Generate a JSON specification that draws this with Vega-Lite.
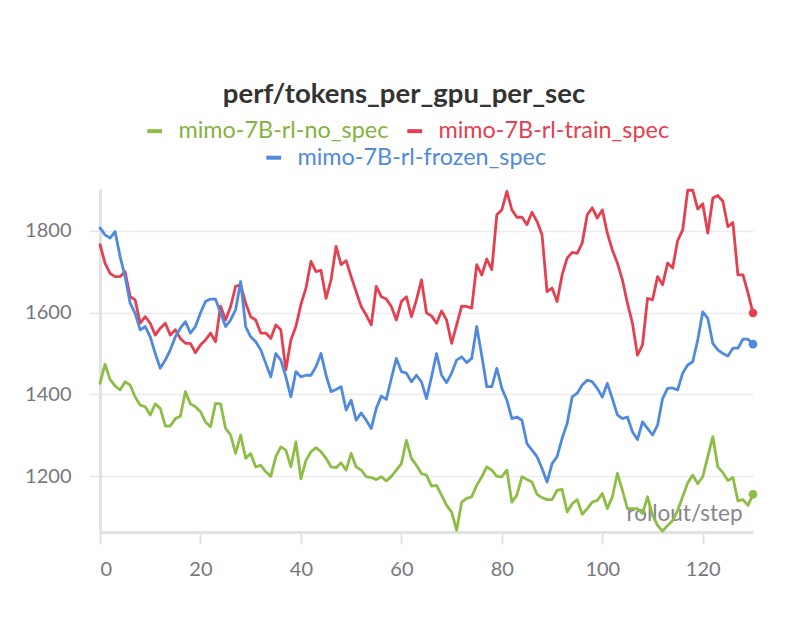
{
"$schema": "https://vega.github.io/schema/vega-lite/v6.json",
"width": 653,
"height": 343,
"autosize": {"type": "none"},
"padding": {"left": 100, "top": 189, "right": 53, "bottom": 88},
"background": "white",
"config": {"view": {"stroke": null}},
"title": {"text": "perf/tokens_per_gpu_per_sec", "frame": "group", "anchor": "middle", "dx": -22.5, "offset": -17, "baseline": "bottom", "font": "Lato", "fontSize": 27.5, "fontWeight": "bold", "color": "#333333"},
"datasets": {
"no_spec": [
{"step":0,"value":1427},{"step":1,"value":1474},{"step":2,"value":1437},{"step":3,"value":1421},{"step":4,"value":1411},{"step":5,"value":1431},{"step":6,"value":1423},{"step":7,"value":1394},{"step":8,"value":1374},{"step":9,"value":1370},
{"step":10,"value":1350},{"step":11,"value":1377},{"step":12,"value":1366},{"step":13,"value":1323},{"step":14,"value":1323},{"step":15,"value":1341},{"step":16,"value":1347},{"step":17,"value":1407},{"step":18,"value":1377},{"step":19,"value":1370},
{"step":20,"value":1358},{"step":21,"value":1333},{"step":22,"value":1321},{"step":23,"value":1378},{"step":24,"value":1377},{"step":25,"value":1317},{"step":26,"value":1301},{"step":27,"value":1256},{"step":28,"value":1301},{"step":29,"value":1244},
{"step":30,"value":1256},{"step":31,"value":1223},{"step":32,"value":1227},{"step":33,"value":1211},{"step":34,"value":1200},{"step":35,"value":1248},{"step":36,"value":1272},{"step":37,"value":1264},{"step":38,"value":1223},{"step":39,"value":1284},
{"step":40,"value":1194},{"step":41,"value":1239},{"step":42,"value":1260},{"step":43,"value":1270},{"step":44,"value":1260},{"step":45,"value":1244},{"step":46,"value":1223},{"step":47,"value":1221},{"step":48,"value":1233},{"step":49,"value":1215},
{"step":50,"value":1256},{"step":51,"value":1223},{"step":52,"value":1215},{"step":53,"value":1199},{"step":54,"value":1197},{"step":55,"value":1192},{"step":56,"value":1199},{"step":57,"value":1189},{"step":58,"value":1200},{"step":59,"value":1215},
{"step":60,"value":1231},{"step":61,"value":1288},{"step":62,"value":1244},{"step":63,"value":1227},{"step":64,"value":1207},{"step":65,"value":1203},{"step":66,"value":1176},{"step":67,"value":1178},{"step":68,"value":1154},{"step":69,"value":1129},
{"step":70,"value":1113},{"step":71,"value":1068},{"step":72,"value":1137},{"step":73,"value":1146},{"step":74,"value":1150},{"step":75,"value":1178},{"step":76,"value":1199},{"step":77,"value":1223},{"step":78,"value":1215},{"step":79,"value":1200},
{"step":80,"value":1199},{"step":81,"value":1215},{"step":82,"value":1137},{"step":83,"value":1154},{"step":84,"value":1199},{"step":85,"value":1192},{"step":86,"value":1186},{"step":87,"value":1156},{"step":88,"value":1148},{"step":89,"value":1143},
{"step":90,"value":1143},{"step":91,"value":1166},{"step":92,"value":1168},{"step":93,"value":1113},{"step":94,"value":1133},{"step":95,"value":1143},{"step":96,"value":1107},{"step":97,"value":1121},{"step":98,"value":1137},{"step":99,"value":1141},
{"step":100,"value":1158},{"step":101,"value":1121},{"step":102,"value":1150},{"step":103,"value":1207},{"step":104,"value":1166},{"step":105,"value":1121},{"step":106,"value":1121},{"step":107,"value":1121},{"step":108,"value":1109},{"step":109,"value":1150},
{"step":110,"value":1105},{"step":111,"value":1080},{"step":112,"value":1066},{"step":113,"value":1080},{"step":114,"value":1092},{"step":115,"value":1117},{"step":116,"value":1150},{"step":117,"value":1184},{"step":118,"value":1203},{"step":119,"value":1182},
{"step":120,"value":1199},{"step":121,"value":1248},{"step":122,"value":1297},{"step":123,"value":1223},{"step":124,"value":1209},{"step":125,"value":1190},{"step":126,"value":1197},{"step":127,"value":1140},{"step":128,"value":1143},{"step":129,"value":1129},
{"step":130,"value":1156}
],
"train_spec": [
{"step":0,"value":1766},{"step":1,"value":1721},{"step":2,"value":1696},{"step":3,"value":1688},{"step":4,"value":1688},{"step":5,"value":1700},{"step":6,"value":1639},{"step":7,"value":1631},{"step":8,"value":1574},{"step":9,"value":1590},
{"step":10,"value":1574},{"step":11,"value":1545},{"step":12,"value":1562},{"step":13,"value":1574},{"step":14,"value":1545},{"step":15,"value":1558},{"step":16,"value":1537},{"step":17,"value":1525},{"step":18,"value":1525},{"step":19,"value":1502},
{"step":20,"value":1521},{"step":21,"value":1533},{"step":22,"value":1550},{"step":23,"value":1529},{"step":24,"value":1616},{"step":25,"value":1582},{"step":26,"value":1615},{"step":27,"value":1664},{"step":28,"value":1668},{"step":29,"value":1623},
{"step":30,"value":1590},{"step":31,"value":1582},{"step":32,"value":1550},{"step":33,"value":1550},{"step":34,"value":1537},{"step":35,"value":1570},{"step":36,"value":1558},{"step":37,"value":1460},{"step":38,"value":1533},{"step":39,"value":1566},
{"step":40,"value":1620},{"step":41,"value":1660},{"step":42,"value":1725},{"step":43,"value":1700},{"step":44,"value":1703},{"step":45,"value":1635},{"step":46,"value":1680},{"step":47,"value":1762},{"step":48,"value":1717},{"step":49,"value":1727},
{"step":50,"value":1688},{"step":51,"value":1651},{"step":52,"value":1615},{"step":53,"value":1594},{"step":54,"value":1570},{"step":55,"value":1664},{"step":56,"value":1639},{"step":57,"value":1633},{"step":58,"value":1615},{"step":59,"value":1582},
{"step":60,"value":1627},{"step":61,"value":1639},{"step":62,"value":1590},{"step":63,"value":1631},{"step":64,"value":1680},{"step":65,"value":1599},{"step":66,"value":1592},{"step":67,"value":1574},{"step":68,"value":1604},{"step":69,"value":1582},
{"step":70,"value":1525},{"step":71,"value":1570},{"step":72,"value":1616},{"step":73,"value":1615},{"step":74,"value":1611},{"step":75,"value":1717},{"step":76,"value":1692},{"step":77,"value":1731},{"step":78,"value":1705},{"step":79,"value":1839},
{"step":80,"value":1851},{"step":81,"value":1896},{"step":82,"value":1851},{"step":83,"value":1833},{"step":84,"value":1833},{"step":85,"value":1815},{"step":86,"value":1845},{"step":87,"value":1823},{"step":88,"value":1790},{"step":89,"value":1651},
{"step":90,"value":1660},{"step":91,"value":1627},{"step":92,"value":1692},{"step":93,"value":1733},{"step":94,"value":1747},{"step":95,"value":1745},{"step":96,"value":1770},{"step":97,"value":1839},{"step":98,"value":1856},{"step":99,"value":1831},
{"step":100,"value":1851},{"step":101,"value":1794},{"step":102,"value":1753},{"step":103,"value":1721},{"step":104,"value":1680},{"step":105,"value":1623},{"step":106,"value":1574},{"step":107,"value":1496},{"step":108,"value":1521},{"step":109,"value":1635},
{"step":110,"value":1631},{"step":111,"value":1688},{"step":112,"value":1668},{"step":113,"value":1721},{"step":114,"value":1709},{"step":115,"value":1776},{"step":116,"value":1802},{"step":117,"value":1899},{"step":118,"value":1899},{"step":119,"value":1853},
{"step":120,"value":1866},{"step":121,"value":1794},{"step":122,"value":1880},{"step":123,"value":1886},{"step":124,"value":1872},{"step":125,"value":1810},{"step":126,"value":1820},{"step":127,"value":1692},{"step":128,"value":1692},{"step":129,"value":1648},
{"step":130,"value":1599}
],
"frozen_spec": [
{"step":0,"value":1807},{"step":1,"value":1790},{"step":2,"value":1782},{"step":3,"value":1798},{"step":4,"value":1737},{"step":5,"value":1688},{"step":6,"value":1623},{"step":7,"value":1598},{"step":8,"value":1558},{"step":9,"value":1566},
{"step":10,"value":1541},{"step":11,"value":1500},{"step":12,"value":1464},{"step":13,"value":1484},{"step":14,"value":1509},{"step":15,"value":1541},{"step":16,"value":1562},{"step":17,"value":1578},{"step":18,"value":1550},{"step":19,"value":1566},
{"step":20,"value":1599},{"step":21,"value":1627},{"step":22,"value":1633},{"step":23,"value":1633},{"step":24,"value":1599},{"step":25,"value":1566},{"step":26,"value":1582},{"step":27,"value":1607},{"step":28,"value":1676},{"step":29,"value":1566},
{"step":30,"value":1541},{"step":31,"value":1529},{"step":32,"value":1509},{"step":33,"value":1476},{"step":34,"value":1443},{"step":35,"value":1500},{"step":36,"value":1484},{"step":37,"value":1443},{"step":38,"value":1394},{"step":39,"value":1456},
{"step":40,"value":1443},{"step":41,"value":1447},{"step":42,"value":1447},{"step":43,"value":1468},{"step":44,"value":1500},{"step":45,"value":1447},{"step":46,"value":1407},{"step":47,"value":1412},{"step":48,"value":1419},{"step":49,"value":1362},
{"step":50,"value":1386},{"step":51,"value":1337},{"step":52,"value":1355},{"step":53,"value":1337},{"step":54,"value":1317},{"step":55,"value":1366},{"step":56,"value":1396},{"step":57,"value":1388},{"step":58,"value":1439},{"step":59,"value":1488},
{"step":60,"value":1456},{"step":61,"value":1452},{"step":62,"value":1431},{"step":63,"value":1447},{"step":64,"value":1431},{"step":65,"value":1390},{"step":66,"value":1443},{"step":67,"value":1500},{"step":68,"value":1447},{"step":69,"value":1429},
{"step":70,"value":1452},{"step":71,"value":1484},{"step":72,"value":1492},{"step":73,"value":1478},{"step":74,"value":1488},{"step":75,"value":1566},{"step":76,"value":1495},{"step":77,"value":1419},{"step":78,"value":1419},{"step":79,"value":1464},
{"step":80,"value":1415},{"step":81,"value":1386},{"step":82,"value":1341},{"step":83,"value":1345},{"step":84,"value":1337},{"step":85,"value":1280},{"step":86,"value":1264},{"step":87,"value":1248},{"step":88,"value":1219},{"step":89,"value":1186},
{"step":90,"value":1231},{"step":91,"value":1248},{"step":92,"value":1293},{"step":93,"value":1329},{"step":94,"value":1394},{"step":95,"value":1403},{"step":96,"value":1423},{"step":97,"value":1435},{"step":98,"value":1431},{"step":99,"value":1415},
{"step":100,"value":1394},{"step":101,"value":1427},{"step":102,"value":1390},{"step":103,"value":1350},{"step":104,"value":1341},{"step":105,"value":1345},{"step":106,"value":1309},{"step":107,"value":1290},{"step":108,"value":1333},{"step":109,"value":1317},
{"step":110,"value":1301},{"step":111,"value":1325},{"step":112,"value":1390},{"step":113,"value":1415},{"step":114,"value":1416},{"step":115,"value":1411},{"step":116,"value":1452},{"step":117,"value":1472},{"step":118,"value":1480},{"step":119,"value":1533},
{"step":120,"value":1602},{"step":121,"value":1586},{"step":122,"value":1525},{"step":123,"value":1509},{"step":124,"value":1500},{"step":125,"value":1494},{"step":126,"value":1513},{"step":127,"value":1513},{"step":128,"value":1535},{"step":129,"value":1535},
{"step":130,"value":1523}
]
},
"encoding": {
"x": {"field": "step", "type": "quantitative", "scale": {"domain": [0, 130], "nice": false, "zero": false},
 "axis": {"values": [0,20,40,60,80,100,120], "grid": false, "domain": true, "domainColor": "#e2e2e2", "domainWidth": 3, "ticks": true, "tickColor": "#e2e2e2", "tickWidth": 2, "tickSize": 12, "labelFont": "Lato", "labelFontSize": 20, "labelColor": "#77777d", "labelPadding": 15, "title": "rollout/step", "titleFont": "Lato", "titleFontSize": 22.5, "titleFontWeight": "normal", "titleColor": "#86868b", "titleX": 642, "titleY": -12, "titleAlign": "right", "titleBaseline": "alphabetic"}},
"y": {"field": "value", "type": "quantitative", "scale": {"domain": [1064, 1902], "nice": false, "zero": false},
 "axis": {"values": [1200,1400,1600,1800], "format": "d", "grid": true, "gridColor": "#ececec", "gridWidth": 1.5, "domain": true, "domainColor": "#e2e2e2", "domainWidth": 3, "ticks": true, "tickColor": "#e6e6e6", "tickWidth": 1.5, "tickSize": 11, "labelFont": "Lato", "labelFontSize": 20, "labelColor": "#77777d", "labelPadding": 18, "title": null}}
},
"layer": [
{"layer": [
 {"data": {"name": "no_spec"}, "mark": {"type": "line", "strokeWidth": 2.8, "strokeJoin": "round", "strokeCap": "round"},
  "encoding": {"color": {"datum": "mimo-7B-rl-no_spec", "type": "nominal",
   "scale": {"domain": ["mimo-7B-rl-no_spec", "mimo-7B-rl-train_spec"], "range": ["#8dbd45", "#e4404f"]},
   "legend": {"orient": "none", "legendX": 43, "legendY": -70, "direction": "horizontal", "title": null, "symbolType": "stroke", "symbolStrokeWidth": 4, "symbolSize": 220, "labelFont": "Lato", "labelFontSize": 23.4, "labelLimit": 500, "labelOffset": 12, "columnPadding": 10, "padding": 0,
    "encode": {"labels": {"update": {"fill": {"signal": "datum.value === 'mimo-7B-rl-no_spec' ? '#86b33e' : '#e4404f'"}}}}}}}},
 {"data": {"name": "train_spec"}, "mark": {"type": "line", "strokeWidth": 2.8, "strokeJoin": "round", "strokeCap": "round"},
  "encoding": {"color": {"datum": "mimo-7B-rl-train_spec", "type": "nominal"}}},
 {"data": {"name": "no_spec"}, "transform": [{"filter": "datum.step === 130"}], "mark": {"type": "point", "filled": true, "size": 75, "opacity": 1},
  "encoding": {"color": {"datum": "mimo-7B-rl-no_spec", "type": "nominal"}}},
 {"data": {"name": "train_spec"}, "transform": [{"filter": "datum.step === 130"}], "mark": {"type": "point", "filled": true, "size": 75, "opacity": 1},
  "encoding": {"color": {"datum": "mimo-7B-rl-train_spec", "type": "nominal"}}}
]},
{"layer": [
 {"data": {"name": "frozen_spec"}, "mark": {"type": "line", "strokeWidth": 2.8, "strokeJoin": "round", "strokeCap": "round"},
  "encoding": {"color": {"datum": "mimo-7B-rl-frozen_spec", "type": "nominal",
   "scale": {"domain": ["mimo-7B-rl-frozen_spec"], "range": ["#4f8ade"]},
   "legend": {"orient": "none", "legendX": 162, "legendY": -43, "direction": "horizontal", "title": null, "symbolType": "stroke", "symbolStrokeWidth": 4, "symbolSize": 220, "labelFont": "Lato", "labelFontSize": 23.4, "labelLimit": 500, "labelOffset": 12, "labelColor": "#4f8ade", "padding": 0}}}},
 {"data": {"name": "frozen_spec"}, "transform": [{"filter": "datum.step === 130"}], "mark": {"type": "point", "filled": true, "size": 75, "opacity": 1},
  "encoding": {"color": {"datum": "mimo-7B-rl-frozen_spec", "type": "nominal"}}}
]}
],
"resolve": {"scale": {"color": "independent"}, "legend": {"color": "independent"}}
}
